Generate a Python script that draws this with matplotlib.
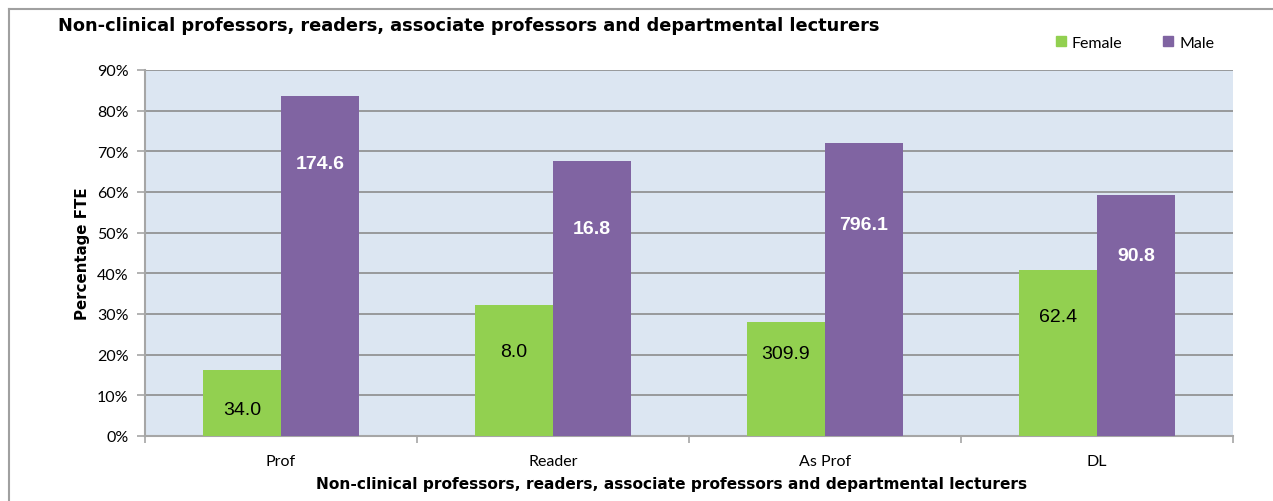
import matplotlib
matplotlib.use("Agg")
import matplotlib.pyplot as plt
import numpy as np
from matplotlib.lines import Line2D
from matplotlib.patches import Patch

categories = ["Prof", "Reader", "As Prof", "DL"]
female_pct = [16.3, 32.3, 28.0, 40.7]
male_pct = [83.7, 67.7, 72.0, 59.3]
female_fte = ["34.0", "8.0", "309.9", "62.4"]
male_fte = ["174.6", "16.8", "796.1", "90.8"]
y_ticks = [0, 10, 20, 30, 40, 50, 60, 70, 80, 90]
y_tick_labels = [f"{v}%" for v in y_ticks]

# label vertical positions (layout, in axis units)
female_label_y = [6.4, 20.7, 20.2, 29.5]
male_label_y = [67.1, 51.1, 52.1, 44.5]

title = "Non-clinical professors, readers, associate professors and departmental lecturers"
xlabel = title
ylabel = "Percentage FTE"

GREEN = "#92D050"
PURPLE = "#8064A2"
BG = "#DCE6F2"
GRID = "#8C8C8C"
SANS = ["Liberation Sans", "DejaVu Sans"]
BOLDF = ["DejaVu Sans"]
TICKF = ["Lato", "DejaVu Sans"]

fig = plt.figure(figsize=(12.73, 5.02), dpi=100)
ax = fig.add_axes([145/1273, 1-437/502, (1233-145)/1273, (437-71)/502])
ax.set_facecolor(BG)

x = np.arange(len(categories))
w = 0.287
ax.bar(x - w/2, female_pct, width=w, color=GREEN, zorder=3, label="Female")
ax.bar(x + w/2, male_pct, width=w, color=PURPLE, zorder=3, label="Male")

for i in range(len(categories)):
    ax.text(x[i] - w/2, female_label_y[i], female_fte[i], ha="center", va="center",
            fontsize=14, family=SANS, color="black", zorder=4)
    ax.text(x[i] + w/2, male_label_y[i], male_fte[i], ha="center", va="center",
            fontsize=14, family=SANS, color="white", fontweight="bold", zorder=4)

ax.set_xlim(-0.5, len(categories) - 0.5)
ax.set_ylim(0, 90)
ax.set_yticks(y_ticks)
ax.set_yticklabels(y_tick_labels, family=TICKF, fontsize=11.5)
ax.yaxis.grid(True, color=GRID, linewidth=1.2, zorder=1)
ax.set_axisbelow(True)

ax.set_xticks(x)
ax.set_xticklabels(categories, family=TICKF, fontsize=11.5)
ax.set_xticks(np.arange(len(categories) + 1) - 0.5, minor=True)
ax.tick_params(axis="x", which="major", length=0, pad=13)
ax.tick_params(axis="x", which="minor", length=5, color="#A6A6A6", width=1.2)
ax.tick_params(axis="y", length=6, color="#A6A6A6", width=1.2, pad=6)

for s in ["top", "right"]:
    ax.spines[s].set_visible(False)
for s in ["left", "bottom"]:
    ax.spines[s].set_color("#A6A6A6")
    ax.spines[s].set_linewidth(1.5)

ax.set_ylabel(ylabel, family=BOLDF, fontweight="bold", fontsize=10.85)
ax.yaxis.set_label_coords((83 - 145) / 1088, (437 - 254) / 366)
ax.set_xlabel(xlabel, family=BOLDF, fontweight="bold", fontsize=11.1)
ax.xaxis.set_label_coords((671.5 - 145) / 1088, -(485 - 437) / 366)
ax.xaxis.label.set_va("center")
ax.yaxis.label.set_va("center")

fig.text(58/1273, 1-26/502, title, family=BOLDF, fontweight="bold", fontsize=12.77,
         ha="left", va="center")

handles = [Patch(color=GREEN), Patch(color=PURPLE)]
leg = fig.legend(handles, ["Female", "Male"], loc="center left", bbox_to_anchor=(1056/1273, 1-43.5/502),
                 ncol=2, frameon=False, prop={"family": TICKF, "size": 11.5},
                 borderpad=0, borderaxespad=0,
                 handlelength=0.625, handleheight=0.625, handletextpad=0.375, columnspacing=2.56)

# outer chart border (top and left visible)
fig.add_artist(Line2D([9/1273, 9/1273], [0, 1-10/502], transform=fig.transFigure, color="#A0A0A0", lw=1.5))
fig.add_artist(Line2D([9/1273, 1], [1-10/502, 1-10/502], transform=fig.transFigure, color="#A0A0A0", lw=1.5))

fig.savefig("out.png", dpi=100, facecolor="white")
